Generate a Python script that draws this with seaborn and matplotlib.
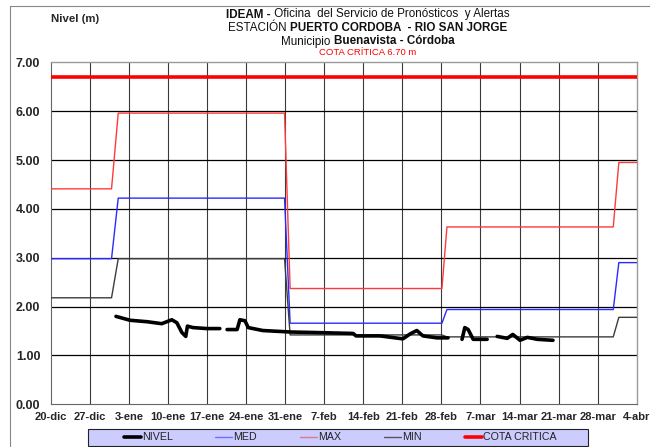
import numpy as np
import pandas as pd
import matplotlib
matplotlib.use("Agg")
import matplotlib.pyplot as plt
import seaborn as sns
from matplotlib.lines import Line2D
from matplotlib.patches import Rectangle

# ==========================
# Data (day 0 = 20-dic)
# ==========================
tick_labels = ["20-dic", "27-dic", "3-ene", "10-ene", "17-ene", "24-ene", "31-ene", "7-feb",
               "14-feb", "21-feb", "28-feb", "7-mar", "14-mar", "21-mar", "28-mar", "4-abr"]

step_days = [0, 10.9, 12.1, 41.9, 42.9, 70.1, 71.0, 100.8, 101.8, 105]
med_vals = [2.98, 2.98, 4.22, 4.22, 1.66, 1.66, 1.94, 1.94, 2.90, 2.90]
max_vals = [4.41, 4.41, 5.96, 5.96, 2.37, 2.37, 3.63, 3.63, 4.95, 4.95]
min_vals = [2.18, 2.18, 2.98, 2.98, 1.42, 1.42, 1.38, 1.38, 1.78, 1.78]

cota_days = [0, 105]
cota_vals = [6.70, 6.70]

nivel_day = [11.7, 14.2, 17.3, 19.9, 21.7, 22.6, 23.5, 24.2, 24.5, 25.5, 28.0, 30.3,
             31.6, 33.4, 33.9, 34.8, 35.4, 38.0, 42.9, 47.0, 54.2, 54.7, 59.0, 63.1,
             64.4, 65.6, 66.7, 69.2, 71.2,
             73.7, 74.2, 74.8, 75.7, 78.2,
             80.0, 81.8, 82.8, 84.1, 85.4, 87.2, 90.0]
nivel_m = [1.80, 1.72, 1.69, 1.65, 1.73, 1.67, 1.47, 1.39, 1.60, 1.57, 1.55, 1.55,
           1.53, 1.53, 1.73, 1.71, 1.57, 1.51, 1.48, 1.47, 1.45, 1.40, 1.40, 1.34,
           1.44, 1.51, 1.40, 1.36, 1.36,
           1.33, 1.57, 1.53, 1.33, 1.33,
           1.39, 1.35, 1.43, 1.31, 1.37, 1.33, 1.31]
nivel_seg = [0] * 12 + [1] * 17 + [2] * 5 + [3] * 7

steps = pd.DataFrame({"day": step_days, "MED": med_vals, "MAX": max_vals, "MIN": min_vals})
nivel = pd.DataFrame({"day": nivel_day, "m": nivel_m, "seg": nivel_seg})
cota = pd.DataFrame({"day": cota_days, "m": cota_vals})

# ==========================
# Style
# ==========================
sns.set_style("white")
plt.rcParams["font.family"] = ["Liberation Sans", "DejaVu Sans"]

W, H = 650, 447
fig = plt.figure(figsize=(W / 100, H / 100), dpi=100)
ax = fig.add_axes([50.7 / W, 1 - 404.3 / H, (636.7 - 50.7) / W, (404.3 - 62.3) / H])

c_med, c_max, c_min = "#2a2aff", "#ff3a3a", "#3c3c3c"

sns.lineplot(data=steps, x="day", y="MAX", color=c_max, lw=1.0, ax=ax, zorder=3)
sns.lineplot(data=steps, x="day", y="MED", color=c_med, lw=1.0, ax=ax, zorder=3)
sns.lineplot(data=steps, x="day", y="MIN", color=c_min, lw=1.0, ax=ax, zorder=3)
sns.lineplot(data=cota, x="day", y="m", color="#ff0000", lw=2.6, ax=ax, zorder=3)
sns.lineplot(data=nivel, x="day", y="m", units="seg", estimator=None, sort=False,
             color="black", lw=2.6, ax=ax, zorder=4,
             solid_capstyle="round", solid_joinstyle="round")

ax.set_xlim(0, 105)
ax.set_ylim(0, 7)
ax.set_xticks(np.arange(0, 106, 7))
ax.set_xticklabels(tick_labels, fontsize=8.0, fontweight="bold")
ax.set_yticks(np.arange(0, 8, 1))
ax.set_yticklabels([f"{v:.2f}" for v in range(8)], fontsize=9, fontweight="bold")
ax.set_xlabel("")
ax.set_ylabel("")
ax.tick_params(axis="both", direction="out", length=4, width=0.8, color="#555555")
ax.tick_params(axis="x", pad=1.5)
ax.tick_params(axis="y", pad=3.5)

for v in np.arange(7, 105, 7):
    ax.axvline(v, color="#3a3a3a", lw=0.8, zorder=1)
for v in range(1, 7):
    ax.axhline(v, color="black", lw=0.9, zorder=1)

for side in ["left", "bottom"]:
    ax.spines[side].set_color("#666666")
    ax.spines[side].set_linewidth(0.8)
for side in ["top", "right"]:
    ax.spines[side].set_color("#9a9a9a")
    ax.spines[side].set_linewidth(1.0)

# outer frame of the chart
fig.add_artist(Line2D([10 / W, 10 / W], [0, 1 - 6 / H], color="#888888", lw=0.8))
fig.add_artist(Line2D([10 / W, 1], [1 - 6 / H, 1 - 6 / H], color="#888888", lw=0.8))

# ==========================
# Titles (mixed weight lines)
# ==========================
fig.text(51 / W, 1 - 19 / H, "Nivel (m)", fontsize=8.2, fontweight="bold", va="center")

title_lines = [
    (14.5, [("IDEAM -", "bold"), (" Oficina  del Servicio de Pronósticos  y Alertas", "normal")]),
    (28.0, [("ESTACIÓN ", "normal"), ("PUERTO CORDOBA  - RIO SAN JORGE", "bold")]),
    (41.5, [("Municipio ", "normal"), ("Buenavista - Córdoba", "bold")]),
]
fig.canvas.draw()
renderer = fig.canvas.get_renderer()
for y, parts in title_lines:
    texts = [fig.text(0, 1 - y / H, s, fontsize=8.4, fontweight=w, va="center", color="#111111")
             for s, w in parts]
    widths = [t.get_window_extent(renderer).width for t in texts]
    x = 368 - sum(widths) / 2
    for t, wd in zip(texts, widths):
        t.set_x(x / W)
        x += wd
fig.text(368 / W, 1 - 52.5 / H, "COTA CRÍTICA 6.70 m", fontsize=6.8, color="#ff0000",
         ha="center", va="center")

# ==========================
# Legend
# ==========================
fig.patches.append(Rectangle((88 / W, 1 - 446 / H), 500 / W, 17 / H, transform=fig.transFigure,
                             facecolor="#ccccff", edgecolor="#222222", lw=0.8))
handles = [
    Line2D([], [], color="black", lw=2.6),
    Line2D([], [], color="#6f6fff", lw=1.0),
    Line2D([], [], color="#e07a8a", lw=1.0),
    Line2D([], [], color="#555555", lw=1.0),
    Line2D([], [], color="#ff0000", lw=2.6),
]
labels = ["NIVEL", "MED", "MAX", "MIN", "COTA CRITICA"]
fig.legend(handles, labels, loc="center", bbox_to_anchor=(340 / W, 1 - 437.5 / H), ncol=5,
           frameon=False, fontsize=7.7, handlelength=1.6, handletextpad=0.1, columnspacing=4.0,
           labelcolor="#222222")

fig.savefig("out.png", dpi=100)
